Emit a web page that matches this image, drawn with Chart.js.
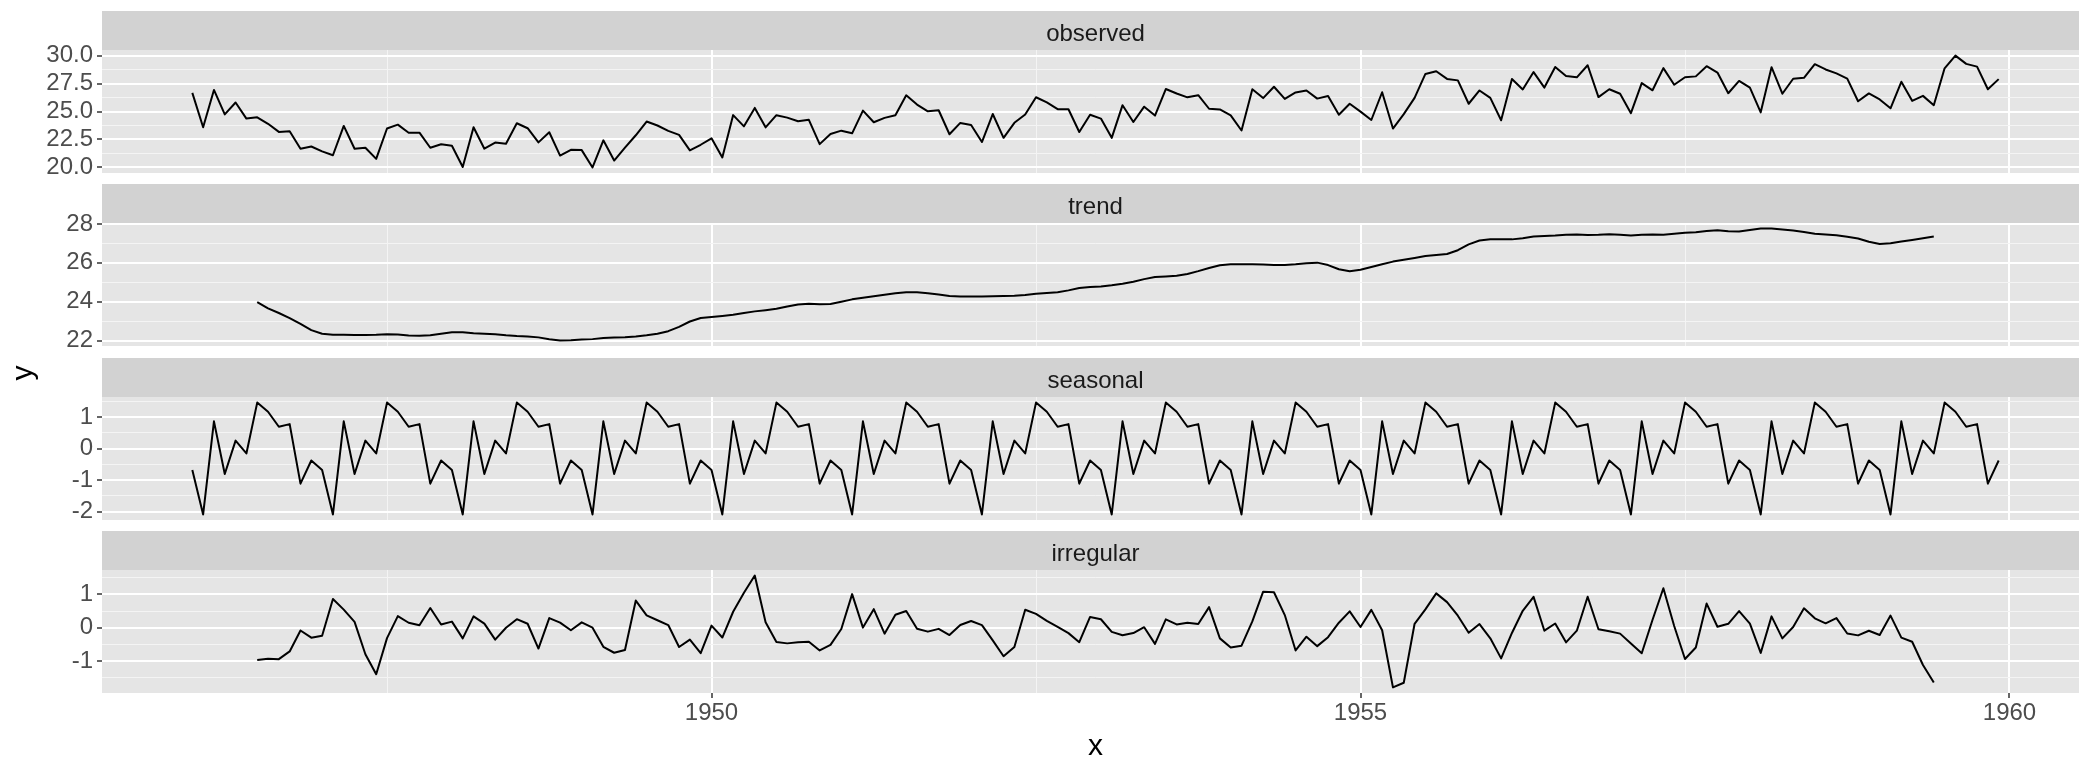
<!DOCTYPE html>
<html>
<head>
<meta charset="utf-8">
<script src="https://cdn.jsdelivr.net/npm/chart.js@4/dist/chart.umd.min.js"></script>
<style>
  html, body { margin: 0; padding: 0; background: #ffffff; overflow: hidden; }
  #wrap { position: relative; width: 2079px; height: 759px; overflow: hidden; }
  #wrap canvas { position: absolute; left: 0; }
</style>
</head>
<body>
<div id="wrap"></div>
<script>
// Monthly births in New York City (thousands), Jan 1946 - Dec 1959,
// and its classical additive decomposition.
const START_YEAR = 1946;          // observed + seasonal start in January 1946
const COMPONENT_START = 1946.5;   // trend + irregular start in July 1946
const MONTHS_PER_YEAR = 12;

const observed = [
  26.663, 23.598, 26.931, 24.740, 25.806, 24.364, 24.477, 23.901, 23.175, 23.227, 21.672, 21.870,
  21.439, 21.089, 23.709, 21.669, 21.752, 20.761, 23.479, 23.824, 23.105, 23.110, 21.759, 22.073,
  21.937, 20.035, 23.590, 21.672, 22.222, 22.123, 23.950, 23.504, 22.238, 23.142, 21.059, 21.573,
  21.548, 20.000, 22.424, 20.615, 21.761, 22.874, 24.104, 23.748, 23.262, 22.907, 21.519, 22.025,
  22.604, 20.894, 24.677, 23.673, 25.320, 23.583, 24.671, 24.454, 24.122, 24.252, 22.084, 22.991,
  23.287, 23.049, 25.076, 24.037, 24.430, 24.667, 26.451, 25.618, 25.014, 25.110, 22.964, 23.981,
  23.798, 22.270, 24.775, 22.646, 23.988, 24.737, 26.276, 25.816, 25.210, 25.199, 23.162, 24.707,
  24.364, 22.644, 25.565, 24.062, 25.431, 24.635, 27.009, 26.606, 26.268, 26.462, 25.246, 25.180,
  24.657, 23.304, 26.982, 26.199, 27.210, 26.122, 26.706, 26.878, 26.152, 26.379, 24.712, 25.688,
  24.990, 24.239, 26.721, 23.475, 24.767, 26.219, 28.361, 28.599, 27.914, 27.784, 25.693, 26.881,
  26.217, 24.218, 27.914, 26.975, 28.527, 27.139, 28.982, 28.169, 28.056, 29.136, 26.291, 26.987,
  26.589, 24.848, 27.543, 26.896, 28.878, 27.390, 28.065, 28.141, 29.048, 28.484, 26.634, 27.735,
  27.132, 24.924, 28.963, 26.589, 27.931, 28.009, 29.229, 28.759, 28.405, 27.945, 25.912, 26.619,
  26.076, 25.286, 27.660, 25.951, 26.398, 25.565, 28.865, 30.000, 29.261, 29.012, 26.992, 27.897
];

const trend = [
                                          23.984, 23.662, 23.423, 23.161, 22.864, 22.545,
  22.354, 22.309, 22.303, 22.295, 22.294, 22.306, 22.335, 22.312, 22.263, 22.258, 22.278, 22.354,
  22.430, 22.437, 22.387, 22.352, 22.325, 22.275, 22.238, 22.220, 22.170, 22.077, 22.014, 22.026,
  22.064, 22.080, 22.133, 22.166, 22.175, 22.213, 22.276, 22.358, 22.489, 22.710, 22.986, 23.163,
  23.217, 23.270, 23.335, 23.427, 23.506, 23.570, 23.639, 23.757, 23.864, 23.895, 23.873, 23.882,
  24.001, 24.124, 24.209, 24.282, 24.355, 24.432, 24.495, 24.484, 24.439, 24.368, 24.292, 24.276,
  24.272, 24.273, 24.289, 24.301, 24.313, 24.352, 24.406, 24.445, 24.493, 24.585, 24.704, 24.760,
  24.786, 24.850, 24.927, 25.024, 25.163, 25.270, 25.302, 25.341, 25.428, 25.576, 25.739, 25.875,
  25.924, 25.923, 25.930, 25.921, 25.896, 25.895, 25.930, 25.982, 26.011, 25.886, 25.671, 25.573,
  25.646, 25.787, 25.932, 26.064, 26.163, 26.254, 26.355, 26.405, 26.454, 26.649, 26.952, 27.147,
  27.211, 27.219, 27.207, 27.269, 27.351, 27.380, 27.400, 27.442, 27.452, 27.434, 27.445, 27.470,
  27.442, 27.403, 27.443, 27.457, 27.444, 27.490, 27.544, 27.569, 27.632, 27.678, 27.626, 27.612,
  27.686, 27.761, 27.760, 27.710, 27.658, 27.581, 27.491, 27.462, 27.423, 27.342, 27.251, 27.086,
  26.969, 27.005, 27.093, 27.173, 27.262, 27.360
];

const seasonal = [
  -0.677, -2.083, 0.863, -0.802, 0.252, -0.153, 1.456, 1.165, 0.692, 0.775, -1.110, -0.377,
  -0.677, -2.083, 0.863, -0.802, 0.252, -0.153, 1.456, 1.165, 0.692, 0.775, -1.110, -0.377,
  -0.677, -2.083, 0.863, -0.802, 0.252, -0.153, 1.456, 1.165, 0.692, 0.775, -1.110, -0.377,
  -0.677, -2.083, 0.863, -0.802, 0.252, -0.153, 1.456, 1.165, 0.692, 0.775, -1.110, -0.377,
  -0.677, -2.083, 0.863, -0.802, 0.252, -0.153, 1.456, 1.165, 0.692, 0.775, -1.110, -0.377,
  -0.677, -2.083, 0.863, -0.802, 0.252, -0.153, 1.456, 1.165, 0.692, 0.775, -1.110, -0.377,
  -0.677, -2.083, 0.863, -0.802, 0.252, -0.153, 1.456, 1.165, 0.692, 0.775, -1.110, -0.377,
  -0.677, -2.083, 0.863, -0.802, 0.252, -0.153, 1.456, 1.165, 0.692, 0.775, -1.110, -0.377,
  -0.677, -2.083, 0.863, -0.802, 0.252, -0.153, 1.456, 1.165, 0.692, 0.775, -1.110, -0.377,
  -0.677, -2.083, 0.863, -0.802, 0.252, -0.153, 1.456, 1.165, 0.692, 0.775, -1.110, -0.377,
  -0.677, -2.083, 0.863, -0.802, 0.252, -0.153, 1.456, 1.165, 0.692, 0.775, -1.110, -0.377,
  -0.677, -2.083, 0.863, -0.802, 0.252, -0.153, 1.456, 1.165, 0.692, 0.775, -1.110, -0.377,
  -0.677, -2.083, 0.863, -0.802, 0.252, -0.153, 1.456, 1.165, 0.692, 0.775, -1.110, -0.377,
  -0.677, -2.083, 0.863, -0.802, 0.252, -0.153, 1.456, 1.165, 0.692, 0.775, -1.110, -0.377
];

const irregular = [
                                          -0.963, -0.926, -0.940, -0.709, -0.082, -0.298,
  -0.238,  0.863,  0.543,  0.176, -0.794, -1.392, -0.312,  0.347,  0.150,  0.077,  0.591,  0.096,
   0.184, -0.319,  0.340,  0.122, -0.355,  0.001,  0.256,  0.119, -0.624,  0.290,  0.155, -0.076,
   0.161,  0.003, -0.572, -0.749, -0.666,  0.814,  0.372,  0.225,  0.081, -0.578, -0.357, -0.761,
   0.064, -0.293,  0.479,  1.048,  1.562,  0.166, -0.424, -0.468, -0.434, -0.418, -0.679, -0.514,
  -0.037,  1.008,  0.004,  0.557, -0.177,  0.388,  0.500, -0.031, -0.117, -0.033, -0.218,  0.082,
   0.203,  0.080, -0.377, -0.853, -0.577,  0.538,  0.414,  0.206,  0.025, -0.161, -0.432,  0.324,
   0.255, -0.123, -0.225, -0.160,  0.016, -0.482,  0.251,  0.100,  0.148,  0.111,  0.617, -0.318,
  -0.590, -0.536,  0.189,  1.080,  1.062,  0.380, -0.680, -0.269, -0.551, -0.282,  0.151,  0.492,
   0.021,  0.535, -0.074, -1.787, -1.648,  0.118,  0.550,  1.029,  0.768,  0.360, -0.149,  0.111,
  -0.317, -0.918, -0.156,  0.508,  0.924, -0.088,  0.126, -0.438, -0.088,  0.927, -0.044, -0.106,
  -0.176, -0.472, -0.763,  0.241,  1.182,  0.053, -0.935, -0.593,  0.724,  0.031,  0.118,  0.500,
   0.123, -0.754,  0.340, -0.319,  0.021,  0.581,  0.282,  0.132,  0.290, -0.172, -0.229, -0.090,
  -0.216,  0.364, -0.296, -0.420, -1.116, -1.642
];

const panelNames = ['observed', 'trend', 'seasonal', 'irregular'];
const panelSeries = [observed, trend, seasonal, irregular];
const panelStarts = [START_YEAR, COMPONENT_START, START_YEAR, COMPONENT_START];

const xMajorTicks = [1950, 1955, 1960];
const xTickLabels = ['1950', '1955', '1960'];
const xMinorTicks = [1947.5, 1952.5, 1957.5];

const yMajorTicks = [
  [20, 22.5, 25, 27.5, 30],
  [22, 24, 26, 28],
  [-2, -1, 0, 1],
  [-1, 0, 1]
];
const yTickLabels = [
  ['20.0', '22.5', '25.0', '27.5', '30.0'],
  ['22', '24', '26', '28'],
  ['-2', '-1', '0', '1'],
  ['-1', '0', '1']
];
const yMinorTicks = [
  [21.25, 23.75, 26.25, 28.75],
  [23, 25, 27],
  [-1.5, -0.5, 0.5, 1.5],
  [-1.5, -0.5, 0.5, 1.5]
];

// ---- layout / theme ----
const FONT = '"Liberation Sans", Arial, Helvetica, sans-serif';
const CANVAS_W = 2089;             // panels run slightly past the page edge
const AXIS_W = 102;                // width reserved for the y tick labels
const STRIP_TOPS = [11, 184, 358, 531];
const STRIP_H = 39;
const PLOT_H = 123;
const BOTTOM_PAD = 30;             // room under a panel for its lowest tick label
const XAXIS_H = 66;
const PANEL_BG = '#E5E5E5';
const STRIP_BG = '#D2D2D2';
const GRID_MAJOR = '#FFFFFF';
const GRID_MINOR = '#F4F4F4';

function toPoints(values, start) {
  return values.map((v, i) => ({ x: start + i / MONTHS_PER_YEAR, y: v }));
}

// ggplot-style continuous range: data range widened by 5% on each side
function expandedRange(values) {
  let lo = Infinity, hi = -Infinity;
  values.forEach(v => { if (v < lo) lo = v; if (v > hi) hi = v; });
  const pad = (hi - lo) * 0.05;
  return [lo - pad, hi + pad];
}

const xFirst = START_YEAR;
const xLast = START_YEAR + (observed.length - 1) / MONTHS_PER_YEAR;
const xPad = (xLast - xFirst) * 0.05;
const X_MIN = xFirst - xPad, X_MAX = xLast + xPad;

const panelPlugin = {
  id: 'facetPanel',
  beforeDraw(chart, args, opts) {
    const { ctx, chartArea: a } = chart;
    ctx.save();
    ctx.fillStyle = PANEL_BG;
    ctx.fillRect(a.left, a.top, a.right - a.left, a.bottom - a.top);
    ctx.fillStyle = STRIP_BG;
    ctx.fillRect(a.left, a.top - STRIP_H, a.right - a.left, STRIP_H);
    ctx.fillStyle = '#1A1A1A';
    ctx.font = '24px ' + FONT;
    ctx.textAlign = 'center';
    ctx.textBaseline = 'alphabetic';
    ctx.fillText(opts.label, (a.left + a.right) / 2, a.top - STRIP_H + 30);
    ctx.restore();
  },
  afterDraw(chart, args, opts) {
    const { ctx, chartArea: a } = chart;
    ctx.save();
    ctx.fillStyle = '#000000';
    ctx.font = '30px ' + FONT;
    ctx.textBaseline = 'alphabetic';
    ctx.textAlign = 'center';
    if (opts.yTitle) {
      ctx.translate(31.5, 373 - STRIP_TOPS[2]);
      ctx.rotate(-Math.PI / 2);
      ctx.fillText(opts.yTitle, 0, 0);
    }
    if (opts.xTitle) {
      ctx.fillText(opts.xTitle, (a.left + a.right) / 2, 755 - STRIP_TOPS[3]);
    }
    ctx.restore();
  }
};

const wrap = document.getElementById('wrap');

panelNames.forEach((name, p) => {
  const last = p === panelNames.length - 1;
  const canvas = document.createElement('canvas');
  const h = STRIP_H + PLOT_H + (last ? XAXIS_H : BOTTOM_PAD);
  canvas.width = CANVAS_W;
  canvas.height = h;
  canvas.style.width = CANVAS_W + 'px';
  canvas.style.height = h + 'px';
  canvas.style.top = STRIP_TOPS[p] + 'px';
  wrap.appendChild(canvas);

  const values = panelSeries[p];
  const [yMin, yMax] = expandedRange(values);
  const yTicks = yMajorTicks[p].concat(yMinorTicks[p]).filter(v => v >= yMin && v <= yMax);
  const xTicks = xMajorTicks.concat(xMinorTicks).filter(v => v >= X_MIN && v <= X_MAX);

  new Chart(canvas, {
    type: 'line',
    data: {
      datasets: [{
        label: name,
        data: toPoints(values, panelStarts[p]),
        borderColor: '#000000',
        borderWidth: 2,
        pointRadius: 0,
        tension: 0,
        fill: false,
        borderJoinStyle: 'round'
      }]
    },
    options: {
      responsive: false,
      animation: false,
      devicePixelRatio: 1,
      layout: { padding: { top: STRIP_H, bottom: last ? 0 : BOTTOM_PAD, left: 0, right: 0 } },
      plugins: {
        legend: { display: false },
        tooltip: { enabled: false },
        facetPanel: {
          label: name,
          yTitle: p === 2 ? 'y' : null,
          xTitle: last ? 'x' : null
        }
      },
      scales: {
        x: {
          type: 'linear',
          min: X_MIN,
          max: X_MAX,
          afterBuildTicks: s => { s.ticks = xTicks.map(v => ({ value: v })); },
          afterFit: s => { s.height = last ? XAXIS_H : 0; },
          border: { display: false },
          grid: {
            drawTicks: last,
            tickLength: 5,
            color: c => xMajorTicks.includes(c.tick.value) ? GRID_MAJOR : GRID_MINOR,
            lineWidth: c => xMajorTicks.includes(c.tick.value) ? 2 : 1,
            tickColor: c => xMajorTicks.includes(c.tick.value) ? '#333333' : 'rgba(0,0,0,0)',
            tickWidth: 1.5
          },
          ticks: {
            display: last,
            autoSkip: false,
            maxRotation: 0,
            padding: 1,
            color: '#4D4D4D',
            font: { family: FONT, size: 24, lineHeight: 1.2 },
            callback: v => {
              const k = xMajorTicks.indexOf(v);
              return k >= 0 ? xTickLabels[k] : '';
            }
          }
        },
        y: {
          type: 'linear',
          min: yMin,
          max: yMax,
          afterBuildTicks: s => { s.ticks = yTicks.map(v => ({ value: v })); },
          afterFit: s => { s.width = AXIS_W; },
          border: { display: false },
          grid: {
            drawTicks: true,
            tickLength: 5,
            color: c => yMajorTicks[p].includes(c.tick.value) ? GRID_MAJOR : GRID_MINOR,
            lineWidth: c => yMajorTicks[p].includes(c.tick.value) ? 2 : 1,
            tickColor: c => yMajorTicks[p].includes(c.tick.value) ? '#333333' : 'rgba(0,0,0,0)',
            tickWidth: 1.5
          },
          ticks: {
            autoSkip: false,
            padding: 4,
            color: '#4D4D4D',
            font: { family: FONT, size: 24 },
            callback: v => {
              const k = yMajorTicks[p].indexOf(v);
              return k >= 0 ? yTickLabels[p][k] : '';
            }
          }
        }
      }
    },
    plugins: [panelPlugin]
  });
});
</script>
</body>
</html>
